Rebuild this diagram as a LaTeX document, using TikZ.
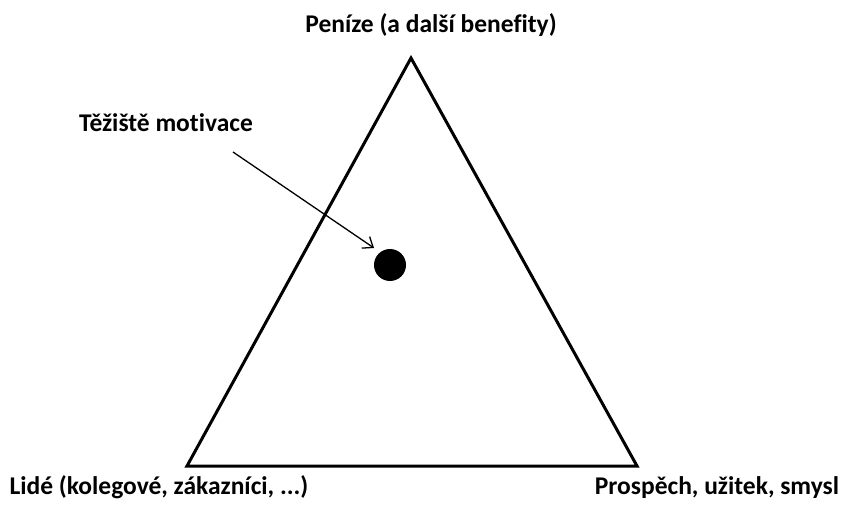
\documentclass[tikz,border=0pt]{standalone}
\usepackage{fontspec}
\setmainfont[Ligatures=NoCommon]{Carlito}
\usetikzlibrary{arrows.meta}
\begin{document}
\begin{tikzpicture}[x=1pt,y=-1pt,
  lbl/.style={font=\bfseries\fontsize{25.5}{28}\selectfont, inner sep=0pt, text=black},
  tri/.style={line width=3pt, line join=miter},
  pointer/.style={line width=1.3pt, -{Straight Barb[length=9pt,width=14pt,line width=1.3pt]}}]
\useasboundingbox (0,0) rectangle (843,513);
\coordinate (top) at (411,58);
\coordinate (bl) at (187,466);
\coordinate (br) at (637,466);
\draw[tri] (top) -- (br) -- (bl) -- cycle;
\node[circle, fill=black, minimum size=32pt, inner sep=0pt] (dot) at (390,265) {};
\node[lbl, anchor=base] (money) at (431,33) {Peníze (a další benefity)};
\node[lbl, anchor=base] (center) at (166,132) {Těžiště motivace};
\node[lbl, anchor=base] (people) at (159,494) {Lidé (kolegové, zákazníci, ...)};
\node[lbl, anchor=base] (benefit) at (717,494) {Prospěch, užitek, smysl};
\coordinate (astart) at (233,152);
\coordinate (aend) at (374,248);
\draw[pointer] (astart) -- (aend);
\end{tikzpicture}
\end{document}
